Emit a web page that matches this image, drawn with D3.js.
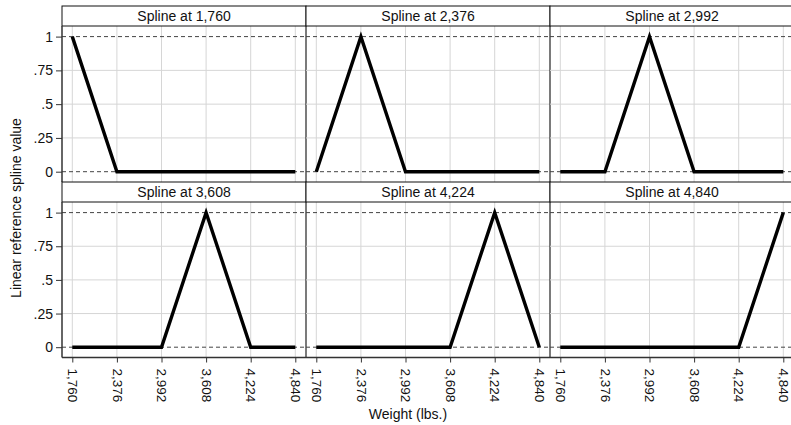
<!DOCTYPE html>
<html><head><meta charset="utf-8">
<script src="https://cdn.jsdelivr.net/npm/d3@7"></script>
<style>body{margin:0;background:#fff}svg{display:block;font-family:"Liberation Sans",Arial,sans-serif}</style>
</head><body><svg id="c" width="791" height="425"></svg>
<script>
const knots = [1760, 2376, 2992, 3608, 4224, 4840];
const knotLabels = ["1,760", "2,376", "2,992", "3,608", "4,224", "4,840"];
const panelTitles = ["Spline at 1,760", "Spline at 2,376", "Spline at 2,992", "Spline at 3,608", "Spline at 4,224", "Spline at 4,840"];
const yTicks = [0, 0.25, 0.5, 0.75, 1];
const yTickLabels = ["0", ".25", ".5", ".75", "1"];
const spline1 = [1, 0, 0, 0, 0, 0];
const spline2 = [0, 1, 0, 0, 0, 0];
const spline3 = [0, 0, 1, 0, 0, 0];
const spline4 = [0, 0, 0, 1, 0, 0];
const spline5 = [0, 0, 0, 0, 1, 0];
const spline6 = [0, 0, 0, 0, 0, 1];
const series = [spline1, spline2, spline3, spline4, spline5, spline6];

const svg = d3.select("#c");
const left = 62, colW = 244;
const rows = [{hTop: 6, pTop: 26, pBot: 182}, {hTop: 182, pTop: 202, pBot: 357.5}];
const FF = "Liberation Sans, Arial, sans-serif";

series.forEach((vals, i) => {
  const r = Math.floor(i / 3), c = i % 3;
  const R = rows[r];
  const x0 = left + c * colW, x1 = x0 + colW;
  const x = d3.scaleLinear().domain([1760, 4840]).range([x0 + 10.3, x0 + 233.3]);
  const y = d3.scaleLinear().domain([0, 1]).range([R.pBot - 10.3, R.pTop + 10.6]);
  const g = svg.append("g");
  g.selectAll(".gx").data(knots).enter().append("line")
    .attr("x1", d => x(d)).attr("x2", d => x(d)).attr("y1", R.pTop).attr("y2", R.pBot)
    .attr("stroke", "#d6d6d6").attr("stroke-width", 1);
  g.selectAll(".gy").data([0.25, 0.5, 0.75]).enter().append("line")
    .attr("x1", x0).attr("x2", x1).attr("y1", d => y(d)).attr("y2", d => y(d))
    .attr("stroke", "#d6d6d6").attr("stroke-width", 1);
  g.selectAll(".ref").data([0, 1]).enter().append("line")
    .attr("x1", x0).attr("x2", x1).attr("y1", d => y(d)).attr("y2", d => y(d))
    .attr("stroke", "#444").attr("stroke-width", 1).attr("stroke-dasharray", "4,3");
  const pts = knots.map((k, j) => [k, vals[j]]);
  g.append("path").datum(pts)
    .attr("d", d3.line().x(d => x(d[0])).y(d => y(d[1])))
    .attr("fill", "none").attr("stroke", "#000").attr("stroke-width", 3.4)
    .attr("stroke-linejoin", "miter");
  g.append("rect").attr("x", x0).attr("y", R.hTop).attr("width", colW).attr("height", R.pTop - R.hTop)
    .attr("fill", "#fff").attr("stroke", "#111").attr("stroke-width", 1);
  g.append("text").attr("x", (x0 + x1) / 2).attr("y", R.hTop + 15).attr("text-anchor", "middle")
    .attr("font-size", 14).attr("fill", "#111").text(panelTitles[i]);
  g.append("line").attr("x1", x1).attr("x2", x1).attr("y1", R.pTop).attr("y2", R.pBot)
    .attr("stroke", "#222").attr("stroke-width", 1.2);
  if (c === 0) {
    const ax = d3.axisLeft(y).tickValues(yTicks).tickFormat((d, k) => yTickLabels[k]).tickSize(6).tickPadding(3);
    const ag = g.append("g").attr("transform", `translate(${x0},0)`).call(ax);
    ag.select(".domain").attr("d", `M0,${R.pTop}V${R.pBot}`).attr("stroke", "#333").attr("stroke-width", 1.5);
    ag.selectAll(".tick line").attr("stroke", "#333");
    ag.selectAll("text").attr("font-size", 14).attr("fill", "#111").attr("font-family", FF);
  }
  if (r === 1) {
    const ax = d3.axisBottom(x).tickValues(knots).tickFormat((d, k) => knotLabels[k]).tickSize(5);
    const ag = g.append("g").attr("transform", `translate(0,${R.pBot})`).call(ax);
    ag.select(".domain").attr("d", `M${x0},0H${x1}`).attr("stroke", "#333").attr("stroke-width", 1.5);
    ag.selectAll(".tick line").attr("stroke", "#333");
    ag.selectAll("text").attr("font-size", 13.5).attr("fill", "#111").attr("font-family", FF)
      .attr("transform", "rotate(90)").attr("text-anchor", "start").attr("dy", "0.35em").attr("x", 11).attr("y", 0);
  }
});

svg.append("text").attr("transform", "translate(21,208) rotate(-90)").attr("text-anchor", "middle")
  .attr("font-size", 14).attr("fill", "#111").text("Linear reference spline value");
svg.append("text").attr("x", 408).attr("y", 419).attr("text-anchor", "middle")
  .attr("font-size", 14).attr("fill", "#111").text("Weight (lbs.)");
</script></body></html>
